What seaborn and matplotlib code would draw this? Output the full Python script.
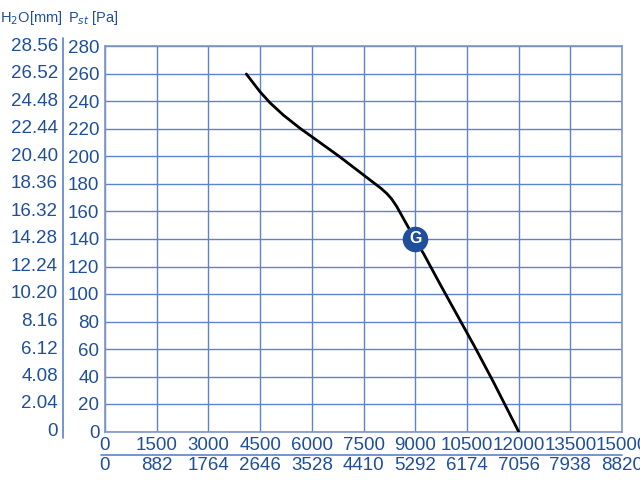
import numpy as np
import pandas as pd
import matplotlib
matplotlib.use("Agg")
import matplotlib.pyplot as plt
import matplotlib.transforms as mtransforms
from matplotlib.ticker import MultipleLocator
import seaborn as sns

sns.set_style("white")
plt.rcParams['font.family'] = ['Liberation Sans', 'DejaVu Sans']

# fan curve
flow = [4100, 4500, 4790, 5180, 5660, 6190, 6800, 7400, 7790, 8000, 8180,
        8320, 8460, 8600, 8800, 9000, 9240, 9725, 10210, 10740, 11270, 12000]
pressure = [260, 247, 239, 230, 220.5, 211, 200, 188.5, 181, 177, 173,
            169, 163.8, 157.5, 148.5, 139, 129.5, 107, 85, 61, 36, 0]

# operating point G
g_flow = [9000]
g_pressure = [140]

pa_ticks = list(range(0, 281, 20))
mm_labels = ["0", "2.04", "4.08", "6.12", "8.16", "10.20", "12.24", "14.28",
             "16.32", "18.36", "20.40", "22.44", "24.48", "26.52", "28.56"]
flow_ticks = list(range(0, 15001, 1500))
cfm_labels = ["0", "882", "1764", "2646", "3528", "4410", "5292", "6174",
              "7056", "7938", "8820"]

blue_txt = "#1f4f9a"
blue_grid = "#5f82cc"

df = pd.DataFrame({"flow": flow, "pressure": pressure})
dg = pd.DataFrame({"flow": g_flow, "pressure": g_pressure})

fig = plt.figure(figsize=(6.4, 4.8), dpi=100)
ax = fig.add_axes([105 / 640, 1 - 431.5 / 480, 517 / 640, 385 / 480])

sns.lineplot(data=df, x="flow", y="pressure", sort=False, color="black",
             linewidth=2, ax=ax, zorder=3)
sns.scatterplot(data=dg, x="flow", y="pressure", s=290, color=blue_txt,
                edgecolor=blue_txt, ax=ax, zorder=4)
for fx, py in zip(g_flow, g_pressure):
    ax.text(fx, py, "G", color="white", fontsize=11.5, fontweight="bold",
            ha="center", va="center", zorder=5)

ax.set_xlim(0, 15000)
ax.set_ylim(0, 280)
ax.set_xticks(flow_ticks)
ax.set_yticks(pa_ticks)
ax.set_xticklabels([str(v) for v in flow_ticks])
ax.set_yticklabels([str(v) for v in pa_ticks])
ax.xaxis.set_minor_locator(MultipleLocator(750))
ax.yaxis.set_minor_locator(MultipleLocator(10))
ax.tick_params(which="major", length=0, labelsize=13.5, labelcolor=blue_txt,
               pad=4)
ax.tick_params(which="minor", direction="in", length=4, width=1,
               color=blue_grid)
ax.grid(True, which="major", color=blue_grid, linewidth=1)
for s in ax.spines.values():
    s.set_color("#7f95c6")
    s.set_linewidth(1.2)
ax.set_xlabel("")
ax.set_ylabel("")

# second column: mm H2O
trans_y = mtransforms.blended_transform_factory(fig.transFigure, ax.transData)
for p, lab in zip(pa_ticks, mm_labels):
    ax.text(58 / 640, p, lab, transform=trans_y, ha="right", va="center",
            fontsize=13.5, color=blue_txt, clip_on=False)

# second row: CFM
trans_x = mtransforms.blended_transform_factory(ax.transData, fig.transFigure)
for f, lab in zip(flow_ticks, cfm_labels):
    ax.text(f, 1 - 466 / 480, lab, transform=trans_x, ha="center",
            va="center", fontsize=13.5, color=blue_txt, clip_on=False)

# separators
fig.add_artist(plt.Line2D([63 / 640, 63 / 640], [1 - 438 / 480, 1 - 38 / 480],
                          color=blue_grid, linewidth=1.2))
fig.add_artist(plt.Line2D([101 / 640, 622 / 640], [1 - 455 / 480, 1 - 455 / 480],
                          color=blue_grid, linewidth=1.2))

# headers
fig.text(0 / 640, 1 - 18 / 480, "H$_2$O[mm]", fontsize=10.5, color=blue_txt,
         ha="left", va="center")
fig.text(68 / 640, 1 - 18 / 480, "P$_{st}$ [Pa]", fontsize=10.5,
         color=blue_txt, ha="left", va="center")

fig.savefig("out.png", dpi=100)
